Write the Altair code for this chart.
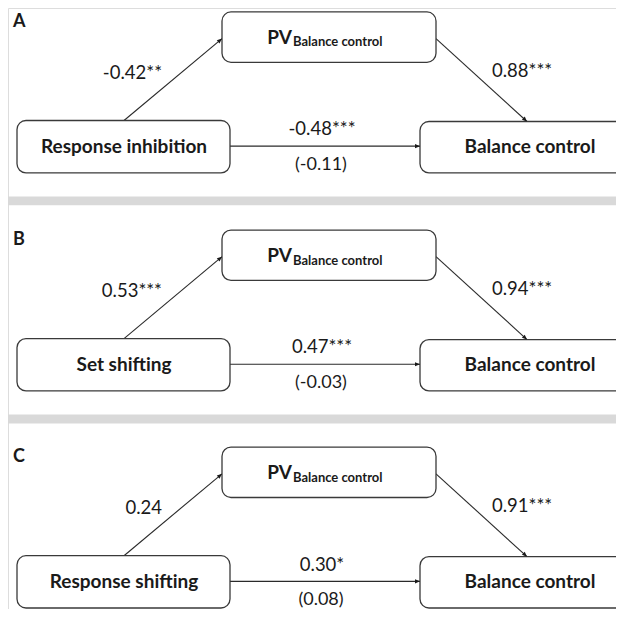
import math
import altair as alt
import pandas as pd

# ---------------- data ----------------
panel_letters = ["A", "B", "C"]
predictors = ["Response inhibition", "Set shifting", "Response shifting"]
mediator_main = "PV"
mediator_sub = "Balance control"
outcome = "Balance control"
path_a = ["-0.42**", "0.53***", "0.24"]
path_b = ["0.88***", "0.94***", "0.91***"]
path_c = ["-0.48***", "0.47***", "0.30*"]
path_c_prime = ["(-0.11)", "(-0.03)", "(0.08)"]

# ---------------- layout ----------------
W, H = 608, 601
panel_dy = [0, 221, 441]
FONT = "Lato"
INK = "#1a1a1a"

xs = alt.Scale(domain=[8, 616], nice=False, zero=False)
ys = alt.Scale(domain=[8, 617], nice=False, zero=False, reverse=True)

def X(f="x"):
    return alt.X(f"{f}:Q", scale=xs, axis=None)

def Y(f="y"):
    return alt.Y(f"{f}:Q", scale=ys, axis=None)

box_rows, sep_rows, rule_rows, head_rows = [], [], [], []
txt_box, txt_letter, txt_a, txt_b, txt_c, txt_cp, txt_pv, txt_sub = ([] for _ in range(8))

for i, dy in enumerate(panel_dy):
    box_rows += [
        dict(x=222, x2=436, y=12 + dy, y2=63 + dy),
        dict(x=17, x2=230, y=122 + dy, y2=175 + dy),
        dict(x=420, x2=660, y=123 + dy, y2=175 + dy),
    ]
    arrows = [
        (124, 122 + dy, 222, 39 + dy),
        (436, 39 + dy, 527, 123 + dy),
        (230, 148 + dy, 420, 148 + dy),
    ]
    for (x1, y1, x2, y2) in arrows:
        rule_rows.append(dict(x=x1, y=y1, x2=x2, y2=y2))
        ang = math.degrees(math.atan2(x2 - x1, -(y2 - y1))) % 360
        head_rows.append(dict(x=x2, y=y2, ang=ang))
    txt_box += [
        dict(x=124, y=149 + dy, t=predictors[i]),
        dict(x=530, y=149 + dy, t=outcome),
    ]
    txt_letter.append(dict(x=13, y=27.5 + dy, t=panel_letters[i]))
    txt_a.append(dict(x=162, y=74 + dy, t=path_a[i]))
    txt_b.append(dict(x=492, y=72 + dy, t=path_b[i]))
    txt_c.append(dict(x=322, y=131 + dy, t=path_c[i]))
    txt_cp.append(dict(x=321, y=167 + dy, t=path_c_prime[i]))
    txt_pv.append(dict(x=292, y=44 + dy, t=mediator_main))
    txt_sub.append(dict(x=293, y=47 + dy, t=mediator_sub))

for yy in (199, 420):
    sep_rows.append(dict(x=3, x2=640, y=yy, y2=yy + 9))

seps = alt.Chart(pd.DataFrame(sep_rows)).mark_rect(color="#d9d9d9").encode(
    x=X(), x2="x2:Q", y=Y(), y2="y2:Q")

boxes = alt.Chart(pd.DataFrame(box_rows)).mark_rect(
    fill="white", stroke="#3a3a3a", strokeWidth=1.3, cornerRadius=9
).encode(x=X(), x2="x2:Q", y=Y(), y2="y2:Q")

rules = alt.Chart(pd.DataFrame(rule_rows)).mark_rule(
    color="#2a2a2a", strokeWidth=1.1
).encode(x=X(), x2="x2:Q", y=Y(), y2="y2:Q")

heads = alt.Chart(pd.DataFrame(head_rows)).mark_point(
    shape="M0,0L-0.42,1L0.42,1Z", filled=True, color="#1a1a1a", opacity=1, size=100
).encode(x=X(), y=Y(), angle=alt.Angle("ang:Q", scale=None))

def text_layer(rows, align, size, weight="normal", baseline="middle"):
    return alt.Chart(pd.DataFrame(rows)).mark_text(
        align=align, baseline=baseline, font=FONT, fontSize=size,
        fontWeight=weight, color=INK
    ).encode(x=X(), y=Y(), text="t:N")

layers = [
    seps, rules, boxes, heads,
    text_layer(txt_box, "center", 19, "bold"),
    text_layer(txt_letter, "left", 18, "bold", "alphabetic"),
    text_layer(txt_a, "right", 18.5),
    text_layer(txt_b, "left", 18.5),
    text_layer(txt_c, "center", 18.5),
    text_layer(txt_cp, "center", 18),
    text_layer(txt_pv, "right", 19, "bold", "alphabetic"),
    text_layer(txt_sub, "left", 13, "bold", "alphabetic"),
]

chart = alt.layer(*layers).properties(
    width=W, height=H, padding=0, autosize=alt.AutoSizeParams(type="none")
).configure_view(stroke=None).configure(background="white")

chart.save("out.html", embed_options={"renderer": "svg", "actions": False})
